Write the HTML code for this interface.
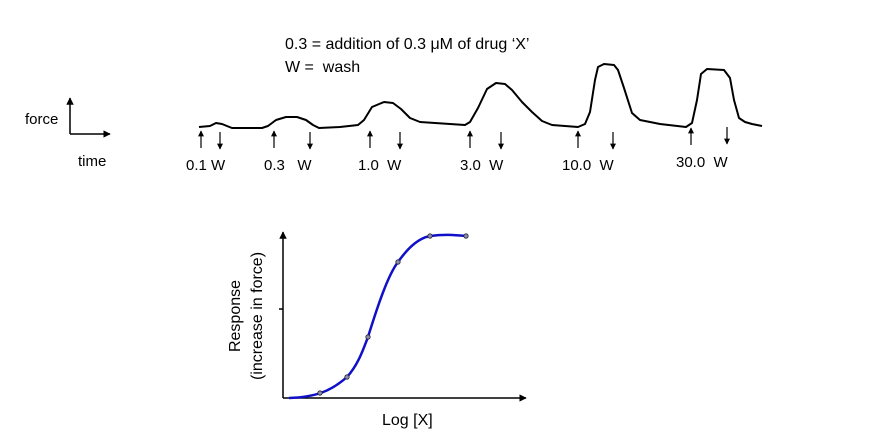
<!DOCTYPE html><html><head><style>body{margin:0;background:#fff}svg text{font-family:"Liberation Sans",sans-serif;fill:#000;white-space:pre}</style></head><body>
<svg width="883" height="436" xmlns="http://www.w3.org/2000/svg" xml:space="preserve">
<defs><marker id="a" viewBox="0 0 10 10" refX="9" refY="5" markerWidth="5" markerHeight="5" orient="auto"><path d="M0,0L10,5L0,10z" fill="#000"/></marker></defs>
<text x="285" y="49" font-size="16">0.3 = addition of 0.3 μM of drug ‘X’</text>
<text x="285" y="72" font-size="16">W =  wash</text>
<text x="25" y="124" font-size="15">force</text>
<text x="78" y="166" font-size="15">time</text>
<path d="M70,134V98" stroke="#000" stroke-width="1.5" fill="none" marker-end="url(#a)"/>
<path d="M70,134H110" stroke="#000" stroke-width="1.5" fill="none" marker-end="url(#a)"/>
<path d="M199,127 L210,126 L216,123 L222,124 L232,128 L262,128 L268,126 L276,120 L286,117 L297,117 L306,120 L313,125 L319,128 L340,127 L358,125 L364,120 L372,107 L384,102 L393,103 L401,109 L410,118 L420,122 L465,125 L470,122 L478,108 L487,89 L496,83 L505,84 L512,90 L522,102 L532,112 L542,121 L552,125 L578,127 L585,124 L590,112 L595,80 L598,67 L604,64 L614,65 L618,70 L624,88 L632,113 L640,120 L660,124 L686,127 L692,123 L697,100 L701,74 L707,69 L724,70 L730,78 L734,100 L739,118 L745,122 L752,124 L762,126" stroke="#000" stroke-width="2" fill="none" stroke-linejoin="round"/>
<g stroke="#000" stroke-width="1.2" fill="none">
<path d="M201,148V131" marker-end="url(#a)"/><path d="M220,132V149" marker-end="url(#a)"/>
<path d="M274,148V131" marker-end="url(#a)"/><path d="M310,132V149" marker-end="url(#a)"/>
<path d="M370,148V131" marker-end="url(#a)"/><path d="M400,132V149" marker-end="url(#a)"/>
<path d="M470,148V131" marker-end="url(#a)"/><path d="M501,132V149" marker-end="url(#a)"/>
<path d="M578,148V131" marker-end="url(#a)"/><path d="M613,132V149" marker-end="url(#a)"/>
<path d="M691,145V128" marker-end="url(#a)"/><path d="M727,127V144" marker-end="url(#a)"/>
</g>
<g font-size="15"><text x="186" y="170">0.1 W</text><text x="264" y="170">0.3   W</text><text x="358" y="170">1.0  W</text><text x="460" y="170">3.0  W</text><text x="562" y="170">10.0  W</text><text x="676" y="167">30.0  W</text></g>
<path d="M283,398V232" stroke="#000" stroke-width="1.5" fill="none" marker-end="url(#a)"/>
<path d="M283,398H526" stroke="#000" stroke-width="1.5" fill="none" marker-end="url(#a)"/>
<path d="M279,309H283" stroke="#000" stroke-width="1.5"/>
<path d="M289,398 C315,397 330,392 347,377 C358,365 363,350 368,337 C378,305 388,275 398,262 C410,245 420,238 430,236 C445,234 455,235 466,236" stroke="#1010c8" stroke-width="2.5" fill="none"/>
<g fill="#8c8cb0" stroke="#223" stroke-width="0.8"><circle cx="320" cy="393" r="2.2"/><circle cx="347" cy="377" r="2.2"/><circle cx="368" cy="337" r="2.2"/><circle cx="398" cy="262" r="2.2"/><circle cx="430" cy="236" r="2.2"/><circle cx="466" cy="236" r="2.2"/></g>
<text x="382" y="425" font-size="16">Log [X]</text>
<text transform="translate(240,316) rotate(-90)" text-anchor="middle" font-size="16">Response</text>
<text transform="translate(262,316) rotate(-90)" text-anchor="middle" font-size="16">(increase in force)</text>
</svg></body></html>
